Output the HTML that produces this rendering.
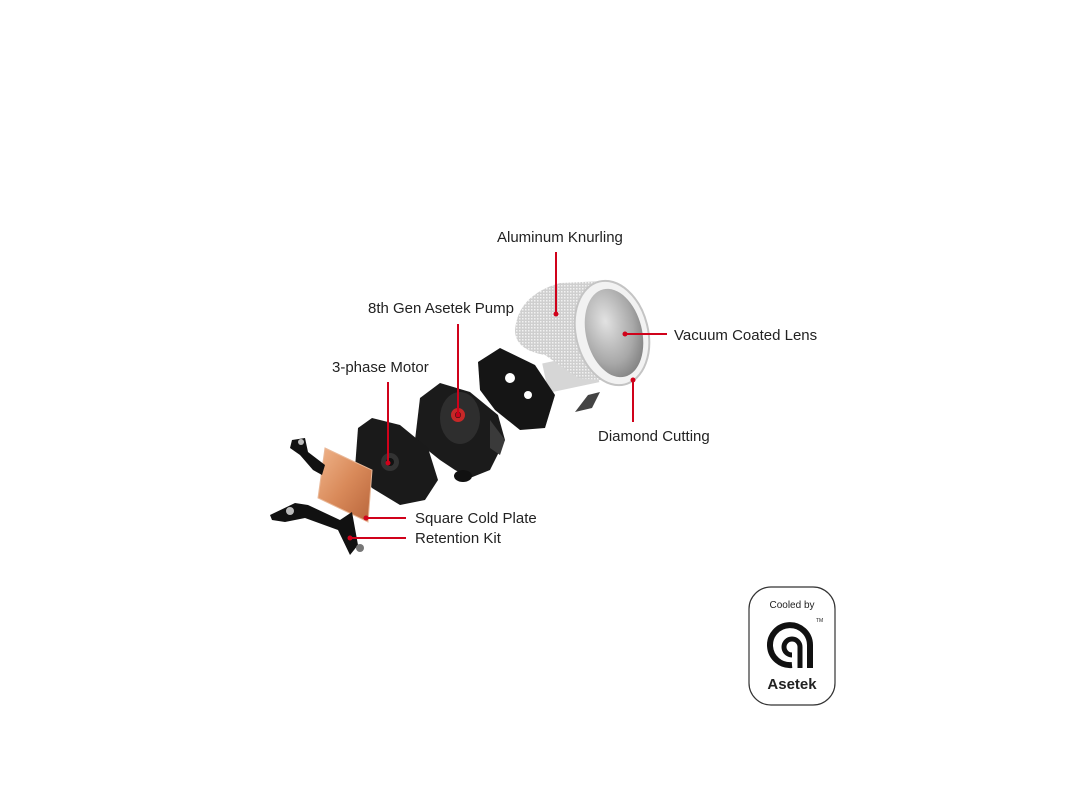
<!DOCTYPE html>
<html><head><meta charset="utf-8"><style>
html,body{margin:0;padding:0;background:#fff;}
svg{display:block;}
text{font-family:"Liberation Sans",sans-serif;fill:#222;}
</style></head><body>
<svg width="1080" height="810" viewBox="0 0 1080 810" xmlns="http://www.w3.org/2000/svg">
<defs>
<linearGradient id="cu" x1="0" y1="0" x2="1" y2="1"><stop offset="0" stop-color="#f0b48a"/><stop offset="0.5" stop-color="#d98a5a"/><stop offset="1" stop-color="#b8643a"/></linearGradient>
<radialGradient id="lens" cx="0.4" cy="0.35" r="0.8"><stop offset="0" stop-color="#e2e2e2"/><stop offset="0.6" stop-color="#a8a8a8"/><stop offset="1" stop-color="#6e6e6e"/></radialGradient>
<pattern id="kn" width="3" height="3" patternUnits="userSpaceOnUse"><rect width="3" height="3" fill="#cfcfcf"/><rect width="1.5" height="1.5" fill="#f2f2f2"/></pattern>
</defs>

<!-- cylinder -->
<path d="M588 395 L575 412 L592 408 L600 392Z" fill="#444"/>
<rect x="545" y="358" width="52" height="30" fill="#d6d6d6" transform="rotate(-12 570 374)"/>
<path d="M515 330 Q518 295 560 283 L605 281 L622 382 L578 378 L545 355 Q515 350 515 330Z" fill="url(#kn)"/>
<ellipse cx="612" cy="333" rx="36" ry="53" transform="rotate(-14 612 333)" fill="#f2f2f2" stroke="#c4c4c4" stroke-width="2"/>
<ellipse cx="614" cy="333" rx="28" ry="45" transform="rotate(-14 614 333)" fill="url(#lens)"/>

<!-- black plate -->
<path d="M478 362 L500 348 L535 365 L555 395 L545 428 L520 430 L495 410 L480 390Z" fill="#151515"/>
<circle cx="510" cy="378" r="5" fill="#fff"/><circle cx="528" cy="395" r="4" fill="#fff"/>
<!-- pump -->
<path d="M420 398 L440 383 L470 392 L498 415 L505 440 L490 470 L470 478 L455 470 L440 460 L415 440Z" fill="#1b1b1b"/>
<ellipse cx="460" cy="418" rx="20" ry="26" fill="#2e2e2e"/>
<circle cx="458" cy="415" r="7" fill="#c62828"/><circle cx="458" cy="415" r="3" fill="#111"/>
<path d="M490 420 L505 440 L500 455 L490 448Z" fill="#3a3a3a"/>
<ellipse cx="463" cy="476" rx="9" ry="6" fill="#111"/>
<!-- motor -->
<path d="M358 428 L372 418 L400 425 L428 448 L438 480 L425 500 L400 505 L372 488 L355 468Z" fill="#1a1a1a"/>
<circle cx="390" cy="462" r="9" fill="#333"/><circle cx="390" cy="462" r="4" fill="#111"/>
<!-- copper plate -->
<path d="M325 448 L372 470 L368 522 L318 498Z" fill="url(#cu)" stroke="#e9b898" stroke-width="1"/>
<!-- retention brackets -->
<path d="M292 440 L305 438 L308 452 L325 465 L322 475 L313 470 L300 455 L290 448Z" fill="#111"/>
<circle cx="301" cy="442" r="3" fill="#bbb"/>
<path d="M270 515 L295 503 L308 505 L340 520 L352 512 L358 545 L350 555 L338 530 L305 518 L285 522 L272 520Z" fill="#111"/>
<circle cx="290" cy="511" r="4" fill="#bbb"/><circle cx="360" cy="548" r="4" fill="#777"/>

<!-- leader lines -->
<g stroke="#d0021b" stroke-width="2" fill="none">
<line x1="556" y1="252" x2="556" y2="314"/>
<line x1="458" y1="324" x2="458" y2="415"/>
<line x1="388" y1="382" x2="388" y2="463"/>
<line x1="625" y1="334" x2="667" y2="334"/>
<line x1="633" y1="380" x2="633" y2="422"/>
<line x1="366" y1="518" x2="406" y2="518"/>
<line x1="350" y1="538" x2="406" y2="538"/>
</g>
<g fill="#d0021b">
<circle cx="556" cy="314" r="2.5"/><circle cx="458" cy="415" r="2.5"/><circle cx="388" cy="463" r="2.5"/>
<circle cx="625" cy="334" r="2.5"/><circle cx="633" cy="380" r="2.5"/><circle cx="366" cy="518" r="2.5"/><circle cx="350" cy="538" r="2.5"/>
</g>

<g font-size="15">
<text x="497" y="242">Aluminum Knurling</text>
<text x="368" y="313">8th Gen Asetek Pump</text>
<text x="332" y="372">3-phase Motor</text>
<text x="674" y="340">Vacuum Coated Lens</text>
<text x="598" y="441">Diamond Cutting</text>
<text x="415" y="523">Square Cold Plate</text>
<text x="415" y="543">Retention Kit</text>
</g>

<!-- badge -->
<rect x="749" y="587" width="86" height="118" rx="22" fill="#fff" stroke="#333" stroke-width="1.2"/>
<text x="792" y="608" font-size="10" text-anchor="middle" fill="#333">Cooled by</text>
<path d="M810 668 L810 645 A20 20 0 1 0 792 665" fill="none" stroke="#111" stroke-width="6"/>
<path d="M800 668 L800 647 A8 8 0 1 0 792 655" fill="none" stroke="#111" stroke-width="5"/>
<text x="816" y="622" font-size="5" fill="#111">TM</text>
<text x="792" y="689" font-size="15" font-weight="bold" text-anchor="middle" fill="#111">Asetek</text>
</svg>
</body></html>
